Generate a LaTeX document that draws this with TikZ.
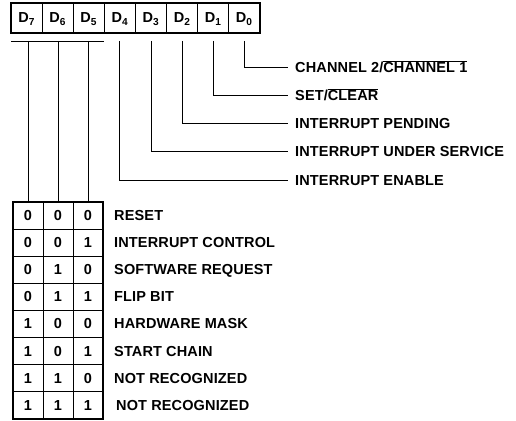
\documentclass[tikz,border=0pt]{standalone}
\usepackage{fontspec}
\setmainfont{Liberation Sans}[LetterSpace=1]
\usepackage{tikz}
\usetikzlibrary{positioning,fit}
\tikzset{
    % Define style for texts
    lbl/.style={
           font=\fontsize{14.5}{14.5}\selectfont\bfseries,
           inner sep=0pt,
           text height=10pt,
           text depth=0pt},
    % Define line style
    wire/.style={
           line width=0.9pt}
}
\newcommand{\ovl}[1]{$\overline{\mbox{#1}}$}

\begin{document}
\begin{tikzpicture}[node distance=0.0cm]
	\tikzstyle{bit} = [rectangle, draw, line width=0.9pt, minimum width=31.1pt, minimum height=30pt, inner sep=0pt, outer sep=0pt, font=\fontsize{14.5}{14.5}\selectfont\bfseries, text height=10pt, text depth=0pt]
	
	\tikzstyle{val} = [rectangle, draw, line width=0.9pt, minimum width=30pt, minimum height=27.1pt, inner sep=0pt, outer sep=0pt, font=\fontsize{14.5}{14.5}\selectfont\bfseries, text height=10pt, text depth=0pt]
	
	\tikzstyle{regframe} = [draw, line width=2.6pt, inner sep=0pt]

	\useasboundingbox (0,0) rectangle (516pt,-420pt);

	% Register
	\node[bit](d7) at (26.6pt,-18pt){D\textsubscript{7}};
	\node[bit, right=of d7.east, anchor=west](d6){D\textsubscript{6}};
	\node[bit, right=of d6.east, anchor=west](d5){D\textsubscript{5}};
	\node[bit, right=of d5.east, anchor=west](d4){D\textsubscript{4}};
	\node[bit, right=of d4.east, anchor=west](d3){D\textsubscript{3}};
	\node[bit, right=of d3.east, anchor=west](d2){D\textsubscript{2}};
	\node[bit, right=of d2.east, anchor=west](d1){D\textsubscript{1}};
	\node[bit, right=of d1.east, anchor=west](d0){D\textsubscript{0}};
	\node[regframe, fit=(d7)(d0)](reg){};
	
	% Single bits
	\node[lbl, anchor=west](lblchan) at (295pt,-67.3pt){CHANNEL 2/\ovl{CHANNEL 1}};
	\node[lbl, below=28.2pt of lblchan.west, anchor=west](lblset){SET/\ovl{CLEAR}};
	\node[lbl, below=28.2pt of lblset.west, anchor=west](lblpend){INTERRUPT PENDING};
	\node[lbl, below=28.2pt of lblpend.west, anchor=west](lblserv){INTERRUPT UNDER SERVICE};
	\node[lbl, below=28.2pt of lblserv.west, anchor=west](lblen){INTERRUPT ENABLE};
	
	\draw[wire] ([yshift=-8pt]d0.south) |- ([xshift=-7pt]lblchan.west);
	\draw[wire] ([yshift=-8pt]d1.south) |- ([xshift=-7pt]lblset.west);
	\draw[wire] ([yshift=-8pt]d2.south) |- ([xshift=-7pt]lblpend.west);
	\draw[wire] ([yshift=-8pt]d3.south) |- ([xshift=-7pt]lblserv.west);
	\draw[wire] ([yshift=-8pt]d4.south) |- ([xshift=-7pt]lblen.west);
	
	% Command table
	\node[val](r1a) at (28pt,-215.55pt){0};
	\node[val, right=of r1a.east, anchor=west](r1b){0};
	\node[val, right=of r1b.east, anchor=west](r1c){0};
	\node[lbl, right=11pt of r1c.east, anchor=west](lreset){RESET};
	
	\node[val, below=of r1a.south, anchor=north](r2a){0};
	\node[val, right=of r2a.east, anchor=west](r2b){0};
	\node[val, right=of r2b.east, anchor=west](r2c){1};
	\node[lbl, right=11pt of r2c.east, anchor=west](lintctl){INTERRUPT CONTROL};
	
	\node[val, below=of r2a.south, anchor=north](r3a){0};
	\node[val, right=of r3a.east, anchor=west](r3b){1};
	\node[val, right=of r3b.east, anchor=west](r3c){0};
	\node[lbl, right=11pt of r3c.east, anchor=west](lswreq){SOFTWARE REQUEST};
	
	\node[val, below=of r3a.south, anchor=north](r4a){0};
	\node[val, right=of r4a.east, anchor=west](r4b){1};
	\node[val, right=of r4b.east, anchor=west](r4c){1};
	\node[lbl, right=11pt of r4c.east, anchor=west](lflip){FLIP BIT};
	
	\node[val, below=of r4a.south, anchor=north](r5a){1};
	\node[val, right=of r5a.east, anchor=west](r5b){0};
	\node[val, right=of r5b.east, anchor=west](r5c){0};
	\node[lbl, right=11pt of r5c.east, anchor=west](lhwmask){HARDWARE MASK};
	
	\node[val, below=of r5a.south, anchor=north](r6a){1};
	\node[val, right=of r6a.east, anchor=west](r6b){0};
	\node[val, right=of r6b.east, anchor=west](r6c){1};
	\node[lbl, right=11pt of r6c.east, anchor=west](lchain){START CHAIN};
	
	\node[val, below=of r6a.south, anchor=north](r7a){1};
	\node[val, right=of r7a.east, anchor=west](r7b){1};
	\node[val, right=of r7b.east, anchor=west](r7c){0};
	\node[lbl, right=11pt of r7c.east, anchor=west](lnrec){NOT RECOGNIZED};
	
	\node[val, below=of r7a.south, anchor=north](r8a){1};
	\node[val, right=of r8a.east, anchor=west](r8b){1};
	\node[val, right=of r8b.east, anchor=west](r8c){1};
	\node[lbl, right=13pt of r8c.east, anchor=west](lnrecb){NOT RECOGNIZED};
	
	\node[regframe, fit=(r1a)(r8c)](tbl){};
	
	% Command bits
	\coordinate (bus) at ([yshift=-8pt]d7.south west);
	\draw[wire] (bus) -- ([yshift=-8pt]d5.south east);
	\draw[wire] (r1a.north |- bus) -- (r1a.north);
	\draw[wire] (r1b.north |- bus) -- (r1b.north);
	\draw[wire] (r1c.north |- bus) -- (r1c.north);

\end{tikzpicture}
\end{document}
